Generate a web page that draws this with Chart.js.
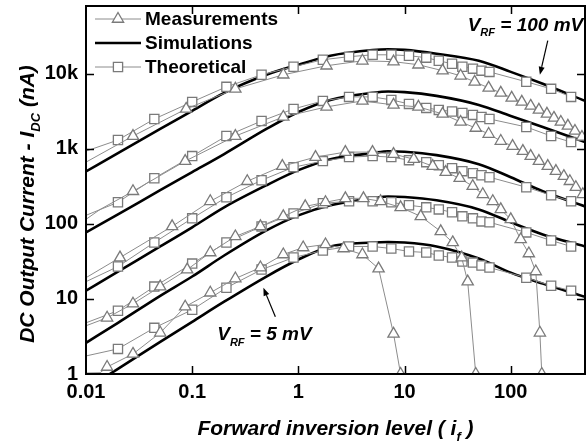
<!DOCTYPE html>
<html><head><meta charset="utf-8">
<script src="https://cdn.jsdelivr.net/npm/chart.js@4.4.1/dist/chart.umd.min.js"></script>
<style>html,body{margin:0;padding:0;background:#fff;}canvas{display:block;}</style>
</head><body>
<canvas id="c" width="586" height="445"></canvas>
<script>
// ---------- data ----------
const SIM_X = [0.01,0.02,0.05,0.1,0.2,0.5,1,2,5,7,10,20,50,100,200,500];
const SIM_100 = [500,880,1840,3200,5570,9700,13200,17400,20700,21200,20800,18500,14900,10600,7350,4350];
const SIM_50  = [77,134,281,489,851,1840,3100,4490,5570,5800,5700,5080,3850,2740,1955,1230];
const SIM_20  = [12.9,23.2,50,90,166,327,520,729,877,930,915,825,625,419,272,171];
const SIM_10  = [2.6,4.8,11,19.9,37.9,81.9,130,177,219,232,228,206,156,105,72.4,50];
const SIM_5   = [0.63,1.17,2.68,4.96,9.19,19.9,33.5,50,56.6,57.5,56.5,50,34.5,22.4,16,10.7];

const THEO_X = [0.01,0.02,0.044,0.1,0.21,0.45,0.9,1.7,3,5,7.5,11,16,21,28,35,44,53,63,140,240,370];
const THEO_100 = [933,1310,2500,4220,6700,9700,12400,15400,16900,17900,17900,17400,16400,14900,13600,12400,11700,11000,10600,7820,6300,4920];
const THEO_50  = [130,194,406,800,1480,2350,3400,4350,4920,4920,4490,3970,3510,3300,3150,3010,2830,2660,2500,1955,1480,1230];
const THEO_20  = [17,27,56.6,118.5,226,382,570,686,776,800,776,707,665,606,553,504,474,445,419,308,241,200];
const THEO_10  = [4.81,6.97,14.6,29.6,56.6,92.6,138,188,200,200,194,177,166,156,143,126,118.5,108,105,77,60.1,50];
const THEO_5   = [1.74,2.16,4.12,7.18,14.1,24.6,35.6,44.2,50,50,47,42.9,41.6,37.9,35.6,31.5,30.5,27.9,26.2,19.2,15,12.9];

const MEAS_X_100 = [0.01,0.0277,0.0877,0.255,0.721,1.84,4.01,7.87,13.5,22.8,33.7,45.7,61.9,80.5,102,127,154,184,219,255,296,345,402,468];
const MEAS_100   = [665,1480,3400,6300,9700,12800,14900,14500,13200,11000,9400,7800,6500,5570,4770,4220,3730,3300,2920,2580,2280,2020,1730,1440];
const MEAS_X_50  = [0.01,0.0136,0.0277,0.0859,0.255,0.721,1.84,4.01,7.87,13.5,22.8,33.7,46.8,61.9,80.5,104,130,154,184,223,266,316,360,410,477];
const MEAS_50    = [115,156,272,686,1480,2660,3620,4350,3850,3620,2920,2280,1895,1575,1270,1088,933,800,686,588,504,432,370,308,248];
const MEAS_X_20  = [0.01,0.0209,0.0647,0.148,0.33,0.706,1.45,2.77,4.99,7.87,12.2,18.4,24.4,33,43.8,54.5,67.7,80.5,100,124,148,172,188,196];
const MEAS_20    = [19.2,35.6,92.6,200,370,588,776,905,905,851,729,588,489,406,318,248,200,156,115,62,40.3,23.2,3.54,1.0];
const MEAS_X_10  = [0.01,0.0158,0.0277,0.05,0.0897,0.148,0.255,0.439,0.721,1.16,1.8,2.77,4.1,5.94,9.17,14.2,21.9,28.4,34.5,39.3,46.8];
const MEAS_10    = [4.39,5.61,8.64,14.6,24.6,41.6,68,92.6,126,171,194,219,219,200,166,126,79.4,56.6,35.6,17,1.0];
const MEAS_X_5   = [0.01,0.0136,0.0158,0.0277,0.05,0.0859,0.148,0.255,0.439,0.721,1.11,1.8,2.66,4.01,5.69,7.87,9.17];
const MEAS_5     = [1.03,1.04,1.24,1.85,3.54,7.88,12.1,18.7,26.2,39.1,48.5,53.2,47,39.1,25.4,3.43,1.0];

const X_TICK_LABELS = ['0.01','0.1','1','10','100'];
const Y_TICK_LABELS = ['1','10','100','1k','10k'];
const X_MIN = 0.01, X_MAX = 500, Y_MIN = 1, Y_MAX = 80000;

// ---------- styling ----------
const FONT = '"Liberation Sans", Arial, Helvetica, sans-serif';
const LINE_GRAY = '#8c8c8c';
const MARK_GRAY = '#7a7a7a';

function pts(xs, ys){ return xs.map((x,i)=>({x:x, y:ys[i]})); }
function isPow10(v){ const l=Math.log10(v); return Math.abs(l-Math.round(l))<1e-7; }
const markR = c => (c.raw && c.raw.x < 0.015) ? 0 : 6.5;

const series = [
  {sim:SIM_100, theo:THEO_100, mx:MEAS_X_100, my:MEAS_100},
  {sim:SIM_50,  theo:THEO_50,  mx:MEAS_X_50,  my:MEAS_50},
  {sim:SIM_20,  theo:THEO_20,  mx:MEAS_X_20,  my:MEAS_20},
  {sim:SIM_10,  theo:THEO_10,  mx:MEAS_X_10,  my:MEAS_10},
  {sim:SIM_5,   theo:THEO_5,   mx:MEAS_X_5,   my:MEAS_5}
];
const datasets = [];
series.forEach(s=>{
  datasets.push({label:'Simulations', data:pts(SIM_X,s.sim), borderColor:'#000', borderWidth:2.6,
    pointRadius:0, cubicInterpolationMode:'monotone', fill:false, order:3});
  datasets.push({label:'Theoretical', data:pts(THEO_X,s.theo), borderColor:LINE_GRAY, borderWidth:1,
    pointStyle:'rect', pointRadius:markR, pointBackgroundColor:'#fff', pointBorderColor:MARK_GRAY,
    pointBorderWidth:1.3, tension:0, fill:false, order:2});
  datasets.push({label:'Measurements', data:pts(s.mx,s.my), borderColor:LINE_GRAY, borderWidth:1,
    pointStyle:'triangle', pointRadius:markR, pointBackgroundColor:'#fff', pointBorderColor:MARK_GRAY,
    pointBorderWidth:1.3, tension:0, fill:false, order:1});
});

// ---------- helpers for rich text (subscripts) ----------
function fontStr(size, italic){ return (italic?'italic ':'')+'bold '+size+'px '+FONT; }
function richWidth(ctx, parts, size){
  let w=0; parts.forEach(p=>{ ctx.font=fontStr(p.sub?Math.round(size*0.6):size, true); w+=ctx.measureText(p.t).width; }); return w;
}
function drawRich(ctx, parts, x, y, size, align){
  let w = richWidth(ctx, parts, size);
  let cx = align==='center' ? x - w/2 : x;
  ctx.textBaseline='alphabetic'; ctx.textAlign='left'; ctx.fillStyle='#000';
  parts.forEach(p=>{
    const s = p.sub?Math.round(size*0.6):size;
    ctx.font=fontStr(s, true);
    ctx.fillText(p.t, cx, p.sub ? y + size*0.3 : y);
    cx += ctx.measureText(p.t).width;
  });
}
function arrow(ctx, x1,y1,x2,y2){
  ctx.save(); ctx.strokeStyle='#000'; ctx.fillStyle='#000'; ctx.lineWidth=1.2;
  const a=Math.atan2(y2-y1,x2-x1), L=8, W=3;
  const bx=x2-L*Math.cos(a), by=y2-L*Math.sin(a);
  ctx.beginPath(); ctx.moveTo(x1,y1); ctx.lineTo(bx,by); ctx.stroke();
  ctx.beginPath(); ctx.moveTo(x2,y2);
  ctx.lineTo(bx+W*Math.sin(a), by-W*Math.cos(a));
  ctx.lineTo(bx-W*Math.sin(a), by+W*Math.cos(a)); ctx.closePath(); ctx.fill();
  ctx.restore();
}

const decor = {
  id:'decor',
  afterDatasetsDraw(chart){
    const {ctx, chartArea:a, scales:{x,y}} = chart;
    ctx.save();
    // inward tick marks on all four sides
    ctx.strokeStyle='#000'; ctx.lineWidth=1.5;
    ctx.beginPath();
    x.ticks.forEach(t=>{
      const px = Math.round(x.getPixelForValue(t.value))+0.5;
      if (px <= a.left+1 || px >= a.right-1) return;
      const L = isPow10(t.value)?8:4.5;
      ctx.moveTo(px,a.bottom); ctx.lineTo(px,a.bottom-L);
      ctx.moveTo(px,a.top); ctx.lineTo(px,a.top+L);
    });
    y.ticks.forEach(t=>{
      const py = Math.round(y.getPixelForValue(t.value))+0.5;
      if (py <= a.top+1 || py >= a.bottom-1) return;
      const L = isPow10(t.value)?8:4.5;
      ctx.moveTo(a.left,py); ctx.lineTo(a.left+L,py);
      ctx.moveTo(a.right,py); ctx.lineTo(a.right-L,py);
    });
    ctx.stroke();
    // frame
    ctx.lineWidth=2;
    ctx.strokeRect(a.left, a.top, a.right-a.left, a.bottom-a.top);

    // legend (inside top-left)
    const lx0=a.left+9, lx1=a.left+55, tx=a.left+59;
    const rows=[a.top+13, a.top+37, a.top+61];
    ctx.lineWidth=1; ctx.strokeStyle=LINE_GRAY;
    ctx.beginPath(); ctx.moveTo(lx0,rows[0]); ctx.lineTo(lx1,rows[0]); ctx.stroke();
    ctx.beginPath(); ctx.moveTo(lx0,rows[2]); ctx.lineTo(lx1,rows[2]); ctx.stroke();
    ctx.lineWidth=2.6; ctx.strokeStyle='#000';
    ctx.beginPath(); ctx.moveTo(lx0,rows[1]); ctx.lineTo(lx1,rows[1]); ctx.stroke();
    const mx=(lx0+lx1)/2;
    ctx.fillStyle='#fff'; ctx.strokeStyle=MARK_GRAY; ctx.lineWidth=1.3;
    ctx.beginPath();
    ctx.moveTo(mx, rows[0]-6.5); ctx.lineTo(mx+5.63, rows[0]+3.25); ctx.lineTo(mx-5.63, rows[0]+3.25); ctx.closePath();
    ctx.fill(); ctx.stroke();
    ctx.beginPath(); ctx.rect(mx-4.6, rows[2]-4.6, 9.2, 9.2); ctx.fill(); ctx.stroke();
    ctx.fillStyle='#000'; ctx.font=fontStr(19,false); ctx.textBaseline='middle'; ctx.textAlign='left';
    ctx.fillText('Measurements', tx, rows[0]+1);
    ctx.fillText('Simulations', tx, rows[1]+1);
    ctx.fillText('Theoretical', tx, rows[2]+1);

    // annotations
    const t1x = x.getPixelForValue(39.3), t1y = y.getPixelForValue(37600);
    drawRich(ctx,[{t:'V'},{t:'RF',sub:true},{t:' = 100 mV'}], t1x, t1y, 19, 'left');
    arrow(ctx, x.getPixelForValue(223), y.getPixelForValue(27600), x.getPixelForValue(188), y.getPixelForValue(9700));
    const t2x = x.getPixelForValue(0.172), t2y = y.getPixelForValue(2.85);
    drawRich(ctx,[{t:'V'},{t:'RF',sub:true},{t:' = 5 mV'}], t2x, t2y, 19, 'left');
    arrow(ctx, x.getPixelForValue(0.607), y.getPixelForValue(5.79), x.getPixelForValue(0.468), y.getPixelForValue(14.1));

    // axis titles
    drawRich(ctx,[{t:'Forward inversion level ( i'},{t:'f',sub:true},{t:' )'}], (a.left+a.right)/2, 435, 21, 'center');
    ctx.save();
    ctx.translate(34, 204); ctx.rotate(-Math.PI/2);
    drawRich(ctx,[{t:'DC Output Current - I'},{t:'DC',sub:true},{t:' (nA)'}], 0, 0, 21, 'center');
    ctx.restore();
    ctx.restore();
  }
};

new Chart(document.getElementById('c'), {
  type:'line',
  data:{datasets:datasets},
  options:{
    responsive:false, animation:false, devicePixelRatio:1,
    layout:{autoPadding:false, padding:{left:0,right:1,top:6,bottom:0}},
    plugins:{legend:{display:false}, tooltip:{enabled:false}},
    scales:{
      x:{type:'logarithmic', min:X_MIN, max:X_MAX,
         grid:{display:false, drawTicks:false}, border:{display:false},
         ticks:{autoSkip:false, maxRotation:0, padding:6, color:'#000',
           font:{family:FONT, size:20, weight:'bold'},
           callback:v=> isPow10(v) ? X_TICK_LABELS[Math.round(Math.log10(v))+2] : null},
         afterFit:s=>{ s.height = 71; s.paddingRight = 0; s.paddingLeft = 0; }},
      y:{type:'logarithmic', min:Y_MIN, max:Y_MAX,
         grid:{display:false, drawTicks:false}, border:{display:false},
         ticks:{autoSkip:false, padding:8, color:'#000',
           font:{family:FONT, size:20, weight:'bold'},
           callback:v=> isPow10(v) ? Y_TICK_LABELS[Math.round(Math.log10(v))] : null},
         afterFit:s=>{ s.width = 86; s.paddingTop = 0; s.paddingBottom = 0; }}
    }
  },
  plugins:[decor]
});
</script>
</body></html>
